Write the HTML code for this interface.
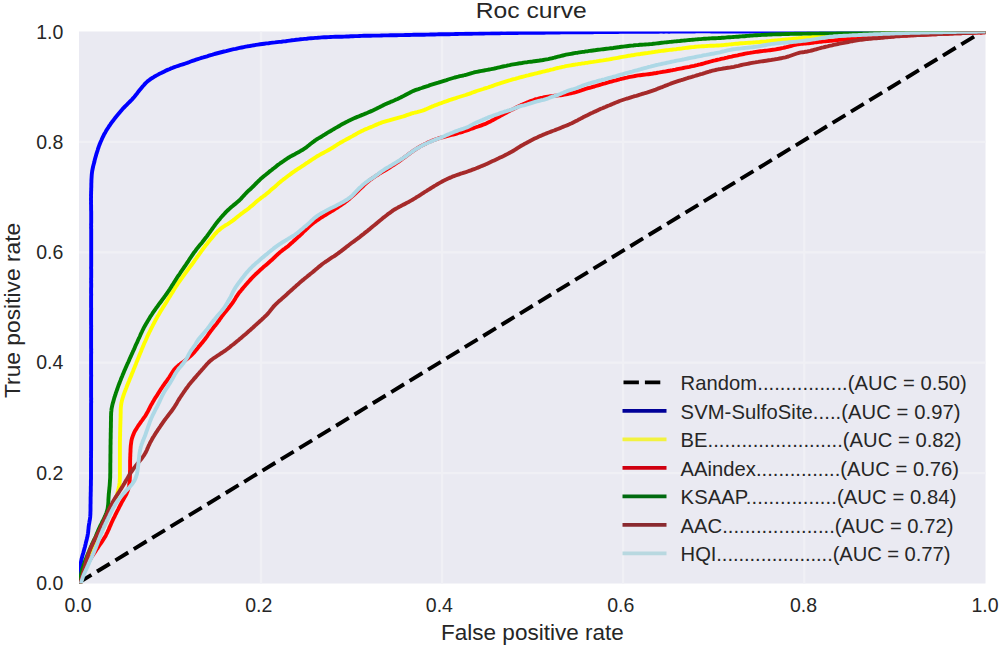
<!DOCTYPE html>
<html><head><meta charset="utf-8"><title>Roc curve</title>
<style>
html,body{margin:0;padding:0;background:#fff;}
body{width:1000px;height:651px;overflow:hidden;}
svg{display:block;}
text{font-family:"Liberation Sans",sans-serif;fill:#262626;}
</style></head><body>
<svg width="1000" height="651" viewBox="0 0 1000 651">
<defs><clipPath id="pc"><rect x="79.0" y="31.5" width="906.5" height="552.0"/></clipPath></defs>

<rect x="79.0" y="31.5" width="906.5" height="552.0" fill="#eaeaf2"/>
<g stroke="#f0f0f5" stroke-width="2.2"><line x1="261.0" y1="31.5" x2="261.0" y2="583.5"/><line x1="79.0" y1="473.1" x2="985.5" y2="473.1"/><line x1="442.1" y1="31.5" x2="442.1" y2="583.5"/><line x1="79.0" y1="362.7" x2="985.5" y2="362.7"/><line x1="623.1" y1="31.5" x2="623.1" y2="583.5"/><line x1="79.0" y1="252.3" x2="985.5" y2="252.3"/><line x1="804.2" y1="31.5" x2="804.2" y2="583.5"/><line x1="79.0" y1="141.9" x2="985.5" y2="141.9"/></g>
<g clip-path="url(#pc)" fill="none" stroke-width="3.9" stroke-linejoin="round" stroke-linecap="butt">
<polyline points="80,581.9 985,29.9" stroke="#000" stroke-dasharray="15 6.54" stroke-dashoffset="1.62"/>
<polyline points="79.3,584.0 79.3,582.5 79.3,581.0 79.3,579.5 79.3,578.0 79.3,576.5 79.4,575.0 79.5,573.5 79.7,572.0 79.8,570.5 80.0,569.0 80.2,567.5 80.4,566.0 80.6,564.5 80.8,563.0 81.1,561.5 81.4,560.0 81.7,558.5 82.1,557.1 82.5,555.6 82.9,554.1 83.4,552.6 83.8,551.1 84.2,549.6 84.6,548.1 85.0,546.7 85.3,545.2 85.7,543.7 86.0,542.2 86.4,540.7 86.8,539.2 87.1,537.7 87.5,536.3 87.7,534.8 88.0,533.3 88.2,531.8 88.3,530.3 88.5,528.8 88.6,527.3 88.8,525.8 89.0,524.3 89.3,522.8 89.5,521.4 89.8,519.9 90.0,518.4 90.2,516.9 90.3,515.4 90.4,513.9 90.4,512.4 90.5,510.9 90.5,509.4 90.5,507.9 90.5,506.4 90.5,504.9 90.6,503.4 90.6,501.9 90.6,500.4 90.6,498.9 90.6,497.4 90.7,495.9 90.7,494.4 90.7,492.8 90.8,491.3 90.8,489.8 90.8,488.3 90.8,486.8 90.9,485.3 90.9,483.8 90.9,482.3 90.9,480.8 91.0,479.3 91.0,477.8 91.0,476.3 91.0,474.8 91.0,473.3 91.0,471.7 91.0,470.2 91.0,468.7 91.0,467.2 91.0,465.7 91.0,464.2 91.0,462.7 91.0,461.2 91.0,459.6 91.0,458.1 91.1,456.6 91.0,455.1 91.1,453.6 91.0,452.1 91.1,450.5 91.1,449.0 91.1,447.5 91.1,446.0 91.1,444.5 91.1,443.0 91.1,441.4 91.1,439.9 91.1,438.4 91.1,436.9 91.1,435.4 91.1,433.8 91.1,432.3 91.1,430.8 91.1,429.3 91.1,427.8 91.1,426.2 91.1,424.7 91.1,423.2 91.1,421.7 91.1,420.1 91.1,418.6 91.1,417.1 91.1,415.6 91.1,414.0 91.1,412.5 91.1,411.0 91.1,409.5 91.1,407.9 91.1,406.4 91.1,404.9 91.1,403.3 91.2,401.8 91.1,400.3 91.2,398.8 91.1,397.2 91.1,395.7 91.1,394.2 91.1,392.6 91.1,391.1 91.1,389.5 91.1,388.0 91.1,386.5 91.1,384.9 91.1,383.4 91.1,381.9 91.1,380.3 91.1,378.8 91.1,377.2 91.2,375.7 91.1,374.2 91.1,372.6 91.1,371.1 91.1,369.5 91.1,368.0 91.1,366.5 91.1,364.9 91.1,363.4 91.1,361.8 91.1,360.3 91.1,358.7 91.1,357.2 91.1,355.6 91.1,354.1 91.2,352.5 91.1,351.0 91.2,349.4 91.1,347.9 91.1,346.3 91.1,344.8 91.1,343.2 91.1,341.7 91.1,340.1 91.1,338.6 91.1,337.0 91.1,335.5 91.1,333.9 91.1,332.3 91.1,330.8 91.2,329.2 91.1,327.7 91.2,326.1 91.1,324.5 91.1,323.0 91.1,321.4 91.1,319.8 91.1,318.3 91.1,316.7 91.1,315.2 91.1,313.6 91.1,312.0 91.1,310.4 91.2,308.9 91.1,307.3 91.1,305.7 91.1,304.2 91.1,302.6 91.1,301.0 91.1,299.4 91.1,297.9 91.1,296.3 91.2,294.7 91.1,293.1 91.1,291.6 91.1,290.0 91.1,288.4 91.2,286.8 91.2,285.2 91.2,283.7 91.1,282.1 91.2,280.5 91.1,278.9 91.2,277.3 91.2,275.7 91.2,274.2 91.2,272.6 91.2,271.0 91.2,269.4 91.1,267.8 91.2,266.2 91.2,264.6 91.2,263.0 91.2,261.4 91.2,259.8 91.2,258.2 91.2,256.7 91.2,255.1 91.2,253.4 91.2,251.9 91.2,250.3 91.2,248.7 91.2,247.1 91.2,245.4 91.2,243.8 91.2,242.2 91.2,240.6 91.2,239.0 91.2,237.4 91.2,235.8 91.2,234.2 91.2,232.6 91.2,231.0 91.2,229.4 91.1,227.7 91.2,226.1 91.1,224.5 91.2,222.9 91.2,221.3 91.2,219.7 91.2,218.0 91.2,216.4 91.2,214.8 91.2,213.2 91.2,211.5 91.1,209.9 91.1,208.3 91.1,206.6 91.1,205.0 91.0,203.3 91.1,201.7 91.0,200.1 91.0,198.4 91.1,196.8 91.0,195.2 91.1,193.6 91.1,191.9 91.2,190.3 91.2,188.7 91.3,187.1 91.3,185.5 91.3,183.8 91.4,182.2 91.4,180.6 91.5,178.9 91.6,177.4 91.7,175.7 91.8,174.2 92.0,172.6 92.2,171.0 92.5,169.5 92.8,168.0 93.1,166.5 93.5,165.0 93.9,163.5 94.3,162.1 94.6,160.6 95.0,159.1 95.4,157.6 95.8,156.2 96.2,154.7 96.7,153.2 97.1,151.8 97.6,150.3 98.0,148.9 98.5,147.5 99.0,146.0 99.6,144.6 100.1,143.2 100.7,141.8 101.3,140.5 101.9,139.1 102.5,137.7 103.2,136.4 103.8,135.0 104.5,133.7 105.3,132.4 106.0,131.1 106.8,129.8 107.6,128.5 108.4,127.3 109.2,126.0 110.1,124.8 110.9,123.5 111.8,122.3 112.8,121.1 113.7,119.9 114.6,118.7 115.5,117.5 116.5,116.3 117.5,115.1 118.4,113.9 119.4,112.7 120.4,111.6 121.4,110.4 122.4,109.3 123.4,108.1 124.5,107.0 125.6,105.9 126.7,104.8 127.8,103.7 128.9,102.6 130.0,101.5 131.1,100.4 132.2,99.3 133.2,98.1 134.2,97.0 135.2,95.8 136.1,94.6 137.1,93.4 138.0,92.2 138.9,91.0 139.9,89.8 140.8,88.7 141.8,87.5 142.8,86.3 143.8,85.2 144.8,84.0 145.9,82.9 147.0,81.9 148.2,80.8 149.5,79.9 150.8,78.9 152.2,78.0 153.7,77.1 155.1,76.2 156.6,75.4 158.1,74.6 159.6,73.7 161.2,73.0 162.8,72.2 164.4,71.4 166.0,70.6 167.6,69.9 169.3,69.2 170.9,68.4 172.7,67.8 174.4,67.1 176.2,66.5 178.1,65.9 179.9,65.2 181.8,64.7 183.6,64.1 185.4,63.5 187.2,62.9 189.0,62.2 190.7,61.5 192.4,60.9 194.2,60.3 196.0,59.7 197.8,59.1 199.7,58.5 201.5,57.9 203.3,57.4 205.2,56.8 207.1,56.3 208.9,55.7 210.7,55.1 212.6,54.6 214.4,54.0 216.4,53.5 218.3,53.0 220.2,52.5 222.1,52.0 224.0,51.5 226.0,51.1 227.9,50.6 229.8,50.1 231.7,49.6 233.7,49.2 235.7,48.8 237.6,48.3 239.6,47.9 241.7,47.5 243.7,47.1 245.6,46.7 247.6,46.3 249.7,46.0 251.8,45.6 253.9,45.3 255.9,44.9 258.0,44.6 260.1,44.3 262.2,44.0 264.3,43.7 266.4,43.4 268.6,43.2 270.6,42.9 272.8,42.6 275.0,42.4 277.1,42.1 279.3,41.9 281.5,41.7 283.5,41.4 285.7,41.2 287.7,40.9 289.9,40.6 292.0,40.3 294.1,40.1 296.2,39.8 298.3,39.6 300.4,39.3 302.5,39.1 304.6,38.9 306.7,38.7 308.8,38.4 311.0,38.2 313.2,38.1 315.3,37.9 317.5,37.8 319.7,37.6 321.8,37.4 324.0,37.3 326.2,37.2 328.4,37.1 330.7,37.0 332.9,36.9 335.2,36.8 337.4,36.8 339.7,36.7 342.0,36.7 344.2,36.6 346.4,36.5 348.6,36.5 350.8,36.3 352.9,36.2 355.1,36.1 357.3,36.1 359.6,36.0 361.7,35.9 363.9,35.8 366.1,35.8 368.4,35.8 370.6,35.8 372.7,35.6 374.9,35.6 377.1,35.6 379.4,35.6 381.5,35.5 383.7,35.4 385.9,35.4 388.1,35.4 390.2,35.3 392.3,35.3 394.5,35.2 396.7,35.2 398.8,35.1 401.0,35.1 403.1,35.1 405.3,35.0 407.4,35.0 409.6,35.0 411.7,34.9 413.7,34.8 415.9,34.8 418.1,34.8 420.1,34.7 422.2,34.7 424.3,34.7 426.5,34.6 428.5,34.6 430.6,34.5 432.7,34.5 434.8,34.5 436.8,34.4 438.9,34.3 441.0,34.3 443.1,34.3 445.1,34.2 447.2,34.2 449.3,34.2 451.3,34.1 453.4,34.1 455.4,34.0 457.4,34.0 459.5,33.9 461.5,33.9 463.6,33.9 465.5,33.8 467.6,33.8 469.6,33.8 471.6,33.7 473.6,33.6 475.7,33.6 477.6,33.6 479.6,33.5 481.7,33.5 483.7,33.5 485.7,33.4 487.6,33.4 489.6,33.4 491.6,33.3 493.6,33.2 495.5,33.2 497.5,33.2 499.5,33.2 501.4,33.0 503.4,33.1 505.4,33.1 507.3,33.0 509.3,33.0 511.3,33.0 513.2,32.9 515.2,33.0 517.2,33.0 519.1,32.9 521.1,32.9 523.0,32.9 524.9,32.8 526.9,32.8 528.8,32.9 530.7,32.8 532.7,32.8 534.6,32.8 536.5,32.7 538.4,32.7 540.3,32.7 542.2,32.6 544.1,32.7 546.0,32.6 547.9,32.6 549.9,32.6 551.7,32.6 553.6,32.5 555.5,32.5 557.4,32.5 559.3,32.5 561.1,32.4 563.0,32.4 564.9,32.4 566.8,32.4 568.6,32.4 570.5,32.4 572.4,32.4 574.2,32.3 576.1,32.3 578.0,32.3 579.8,32.3 581.6,32.3 583.5,32.2 585.3,32.2 587.1,32.2 589.0,32.2 590.8,32.2 592.6,32.2 594.5,32.1 596.3,32.1 598.1,32.1 599.9,32.1 601.7,32.1 603.5,32.0 605.4,32.1 607.2,32.0 609.0,32.0 610.8,32.0 612.6,32.0 614.4,32.0 616.2,31.9 618.0,32.0 619.8,31.9 621.6,31.9 623.3,31.9 625.1,31.8 626.9,31.9 628.7,31.8 630.4,31.8 632.2,31.9 634.0,31.8 635.8,31.8 637.5,31.8 639.3,31.7 641.1,31.8 642.8,31.7 644.6,31.7 646.3,31.8 648.1,31.7 649.8,31.7 651.6,31.7 653.3,31.7 655.1,31.7 656.8,31.6 658.5,31.7 660.3,31.6 662.0,31.6 663.8,31.7 665.4,31.6 667.2,31.6 669.0,31.7 670.6,31.6 672.4,31.6 674.1,31.5 675.8,31.6 677.5,31.6 679.2,31.5 680.9,31.6 682.6,31.5 684.3,31.5 686.1,31.6 687.7,31.5 689.5,31.5 691.1,31.5 692.8,31.5 694.5,31.5 696.2,31.4 697.9,31.4 699.6,31.4 701.3,31.4 703.0,31.4 704.6,31.4 706.3,31.4 708.0,31.4 709.7,31.4 711.4,31.5 713.0,31.4 714.7,31.5 716.4,31.5 718.0,31.5 719.7,31.5 721.4,31.4 723.0,31.5 724.7,31.4 726.4,31.5 728.0,31.4 729.7,31.5 731.3,31.5 732.9,31.5 734.6,31.5 736.2,31.5 737.9,31.5 739.5,31.4 741.2,31.5 742.8,31.4 744.5,31.5 746.1,31.4 747.7,31.5 749.3,31.5 751.0,31.5 752.6,31.5 754.2,31.5 755.9,31.5 757.5,31.4 759.1,31.5 760.7,31.4 762.3,31.5 763.9,31.4 765.6,31.5 767.2,31.4 768.8,31.5 770.4,31.5 772.0,31.5 773.6,31.5 775.2,31.5 776.8,31.5 778.4,31.5 780.0,31.5 781.6,31.4 783.2,31.5 784.8,31.4 786.4,31.5 788.0,31.4 789.6,31.5 791.2,31.5 792.8,31.5 794.4,31.5 796.0,31.5 797.6,31.5 799.1,31.5 800.7,31.5 802.3,31.5 803.9,31.5 805.4,31.5 807.0,31.5 808.6,31.5 810.2,31.5 811.7,31.4 813.3,31.5 814.9,31.5 816.5,31.5 818.0,31.5 819.6,31.5 821.2,31.5 822.7,31.5 824.3,31.5 825.8,31.5 827.4,31.5 829.0,31.5 830.5,31.5 832.1,31.5 833.6,31.5 835.2,31.5 836.7,31.5 838.3,31.5 839.8,31.5 841.4,31.5 842.9,31.5 844.5,31.5 846.0,31.5 847.6,31.5 849.1,31.5 850.7,31.5 852.2,31.5 853.8,31.5 855.3,31.5 856.8,31.5 858.4,31.5 859.9,31.5 861.5,31.5 863.0,31.5 864.5,31.5 866.1,31.5 867.6,31.5 869.1,31.5 870.7,31.5 872.2,31.5 873.7,31.5 875.3,31.5 876.8,31.5 878.3,31.5 879.8,31.5 881.4,31.5 882.9,31.5 884.4,31.5 885.9,31.5 887.5,31.5 889.0,31.5 890.5,31.5 892.0,31.5 893.5,31.5 895.1,31.5 896.6,31.5 898.1,31.5 899.6,31.5 901.1,31.5 902.7,31.5 904.2,31.5 905.7,31.5 907.2,31.5 908.7,31.5 910.2,31.5 911.8,31.5 913.3,31.5 914.8,31.5 916.3,31.5 917.8,31.5 919.3,31.5 920.8,31.5 922.3,31.5 923.8,31.5 925.3,31.5 926.9,31.5 928.4,31.5 929.9,31.5 931.4,31.5 932.9,31.5 934.4,31.5 935.9,31.5 937.4,31.5 938.9,31.5 940.4,31.5 941.9,31.5 943.4,31.5 944.9,31.5 946.4,31.5 947.9,31.5 949.4,31.5 950.9,31.5 952.4,31.5 953.9,31.5 955.4,31.5 957.0,31.5 958.5,31.5 960.0,31.5 961.5,31.5 963.0,31.5 964.5,31.5 966.0,31.5 967.5,31.5 969.0,31.5 970.5,31.5 972.0,31.5 973.5,31.5 975.0,31.5 976.5,31.5 978.0,31.5 979.5,31.5 981.0,31.5 982.5,31.5 984.0,31.5 985.5,31.5 987.0,31.5 988.5,31.5 990.0,31.5 990.0,31.5" stroke="#0000ff"/>
<polyline points="80.6,584.0 80.8,582.5 81.1,581.0 81.4,579.5 81.8,578.0 82.2,576.5 82.7,575.0 83.3,573.5 83.8,572.0 84.4,570.5 85.0,569.0 85.6,567.6 86.2,566.1 86.7,564.6 87.4,563.1 87.9,561.6 88.6,560.1 89.2,558.6 89.9,557.2 90.6,555.7 91.2,554.2 91.9,552.7 92.6,551.2 93.3,549.8 94.0,548.3 94.7,546.8 95.4,545.4 96.0,543.9 96.7,542.4 97.4,540.9 98.1,539.5 98.7,538.0 99.4,536.5 100.1,535.1 100.8,533.6 101.4,532.1 102.1,530.7 102.8,529.2 103.4,527.8 104.2,526.3 104.8,524.8 105.5,523.4 106.2,521.9 106.9,520.5 107.5,519.0 108.2,517.6 108.8,516.1 109.4,514.7 110.0,513.2 110.5,511.7 111.1,510.3 111.7,508.8 112.2,507.4 112.7,505.9 113.3,504.4 113.9,503.0 114.4,501.5 115.0,500.1 115.6,498.6 116.1,497.2 116.6,495.7 117.1,494.3 117.5,492.8 117.9,491.3 118.3,489.9 118.6,488.4 118.9,486.9 119.2,485.4 119.4,484.0 119.6,482.5 119.7,481.0 119.8,479.5 119.9,478.0 119.9,476.5 119.9,474.9 119.9,473.4 119.9,471.9 119.9,470.4 119.9,468.9 119.9,467.4 119.9,465.9 119.9,464.4 119.9,462.8 119.9,461.3 119.9,459.8 119.9,458.3 119.9,456.8 119.9,455.3 119.9,453.7 119.9,452.2 119.9,450.7 119.9,449.2 119.9,447.7 119.9,446.2 119.9,444.6 119.9,443.1 119.9,441.6 120.0,440.1 120.0,438.6 120.0,437.1 120.1,435.5 120.1,434.0 120.1,432.5 120.2,431.0 120.2,429.5 120.2,428.0 120.3,426.4 120.3,424.9 120.4,423.4 120.4,421.9 120.5,420.4 120.5,418.9 120.6,417.3 120.6,415.8 120.6,414.3 120.7,412.8 120.7,411.2 120.7,409.7 120.8,408.2 120.9,406.7 121.1,405.2 121.3,403.7 121.6,402.2 121.9,400.8 122.3,399.3 122.7,397.9 123.2,396.5 123.6,395.0 124.1,393.6 124.6,392.2 125.2,390.8 125.7,389.3 126.3,387.9 126.8,386.5 127.4,385.1 127.9,383.7 128.5,382.3 129.1,380.9 129.6,379.5 130.2,378.1 130.8,376.7 131.4,375.3 131.9,373.8 132.5,372.4 133.1,371.0 133.6,369.6 134.2,368.2 134.8,366.8 135.3,365.4 135.9,364.0 136.4,362.6 137.0,361.2 137.6,359.8 138.1,358.4 138.7,357.0 139.3,355.6 139.8,354.2 140.4,352.8 141.0,351.4 141.5,350.0 142.1,348.6 142.7,347.2 143.3,345.8 143.8,344.4 144.4,343.0 145.1,341.6 145.7,340.3 146.3,338.9 146.9,337.5 147.5,336.1 148.2,334.7 148.8,333.4 149.5,332.0 150.2,330.6 150.8,329.3 151.5,327.9 152.2,326.6 152.9,325.2 153.6,323.9 154.3,322.5 155.0,321.2 155.7,319.8 156.5,318.5 157.2,317.1 158.0,315.8 158.8,314.5 159.5,313.2 160.3,311.8 161.1,310.5 161.9,309.2 162.7,307.9 163.5,306.6 164.4,305.3 165.2,304.0 166.0,302.7 166.8,301.4 167.6,300.1 168.4,298.8 169.2,297.4 170.1,296.1 170.8,294.8 171.7,293.5 172.5,292.2 173.3,290.9 174.1,289.6 174.9,288.3 175.7,287.0 176.6,285.7 177.4,284.4 178.2,283.2 179.1,281.9 180.0,280.6 180.9,279.3 181.8,278.1 182.7,276.8 183.6,275.6 184.5,274.3 185.4,273.1 186.4,271.8 187.3,270.5 188.2,269.3 189.1,268.1 190.1,266.8 191.1,265.6 192.0,264.3 192.9,263.1 193.8,261.8 194.7,260.6 195.5,259.3 196.4,258.1 197.3,256.8 198.2,255.6 199.1,254.3 200.0,253.1 200.9,251.8 201.8,250.6 202.8,249.3 203.7,248.1 204.6,246.9 205.5,245.6 206.5,244.4 207.5,243.2 208.4,242.0 209.4,240.8 210.4,239.6 211.4,238.4 212.4,237.2 213.4,236.0 214.4,234.8 215.4,233.6 216.5,232.5 217.6,231.3 218.9,230.3 220.1,229.2 221.4,228.1 222.8,227.1 224.3,226.2 225.8,225.2 227.3,224.3 228.8,223.3 230.2,222.4 231.7,221.4 233.1,220.4 234.4,219.4 235.7,218.3 236.9,217.3 238.2,216.2 239.5,215.2 240.8,214.2 242.2,213.2 243.5,212.2 244.9,211.2 246.3,210.2 247.6,209.2 248.9,208.2 250.2,207.1 251.4,206.1 252.7,205.1 253.9,204.0 255.1,202.9 256.3,201.8 257.5,200.8 258.8,199.8 260.1,198.8 261.3,197.7 262.7,196.8 264.0,195.8 265.4,194.8 266.6,193.8 267.9,192.7 269.1,191.7 270.3,190.6 271.5,189.6 272.7,188.6 274.0,187.5 275.2,186.5 276.4,185.4 277.5,184.4 278.7,183.3 279.9,182.3 281.1,181.2 282.4,180.2 283.7,179.2 285.0,178.3 286.3,177.3 287.6,176.3 288.9,175.3 290.2,174.4 291.5,173.4 292.8,172.4 294.2,171.5 295.5,170.5 296.9,169.6 298.3,168.7 299.7,167.8 301.1,166.9 302.4,166.0 303.9,165.1 305.2,164.2 306.6,163.2 308.0,162.3 309.3,161.4 310.7,160.5 312.0,159.6 313.5,158.7 314.8,157.8 316.2,156.9 317.6,156.0 319.1,155.2 320.6,154.3 322.1,153.5 323.6,152.7 325.1,151.9 326.6,151.1 328.1,150.3 329.5,149.5 331.0,148.6 332.4,147.8 333.8,146.9 335.2,146.0 336.5,145.1 337.9,144.2 339.3,143.4 340.7,142.5 342.2,141.7 343.6,140.9 345.1,140.1 346.6,139.3 348.1,138.5 349.5,137.7 351.0,136.9 352.5,136.1 353.9,135.3 355.4,134.5 356.8,133.6 358.3,132.8 359.8,132.1 361.2,131.3 362.8,130.6 364.3,129.8 365.9,129.1 367.5,128.5 369.1,127.8 370.8,127.1 372.4,126.5 374.0,125.8 375.5,125.1 377.1,124.4 378.7,123.7 380.3,123.1 382.0,122.4 383.7,121.9 385.5,121.4 387.3,120.9 389.1,120.4 390.9,119.8 392.6,119.3 394.4,118.8 396.2,118.3 398.0,117.8 399.8,117.3 401.6,116.8 403.4,116.4 405.1,115.8 406.7,115.2 408.4,114.6 410.0,114.1 411.7,113.4 413.5,113.0 415.2,112.5 417.1,112.1 418.9,111.6 420.7,111.2 422.4,110.7 424.0,110.1 425.6,109.4 427.1,108.7 428.6,108.1 430.1,107.4 431.7,106.7 433.3,106.1 434.8,105.4 436.4,104.9 438.0,104.2 439.5,103.6 441.2,103.1 442.7,102.5 444.4,101.9 446.0,101.4 447.6,100.8 449.3,100.2 450.9,99.7 452.5,99.1 454.1,98.6 455.8,98.1 457.4,97.5 459.1,97.0 460.7,96.5 462.4,96.0 464.0,95.5 465.7,95.0 467.3,94.4 468.9,93.9 470.5,93.3 472.0,92.7 473.6,92.2 475.2,91.6 476.7,91.0 478.3,90.5 480.0,90.0 481.6,89.5 483.2,89.0 484.8,88.4 486.5,88.0 488.1,87.5 489.6,86.9 491.2,86.4 492.8,85.8 494.3,85.2 495.9,84.7 497.5,84.1 499.1,83.7 500.6,83.1 502.2,82.6 503.8,82.1 505.4,81.6 507.0,81.1 508.6,80.6 510.3,80.2 511.9,79.7 513.5,79.2 515.1,78.8 516.7,78.3 518.4,77.9 520.0,77.4 521.7,77.0 523.3,76.6 525.0,76.2 526.6,75.7 528.3,75.4 529.9,74.9 531.5,74.5 533.2,74.1 534.8,73.7 536.5,73.3 538.1,72.9 539.7,72.5 541.4,72.1 543.0,71.7 544.6,71.3 546.3,70.9 547.9,70.5 549.5,70.1 551.1,69.6 552.8,69.3 554.4,68.8 556.0,68.4 557.6,68.0 559.2,67.7 560.9,67.3 562.5,66.9 564.2,66.6 565.8,66.2 567.5,65.9 569.2,65.6 570.8,65.3 572.5,65.0 574.2,64.8 575.9,64.4 577.6,64.2 579.3,63.9 581.0,63.7 582.7,63.4 584.4,63.2 586.1,62.9 587.8,62.7 589.5,62.4 591.2,62.1 592.9,61.9 594.5,61.6 596.2,61.4 597.9,61.1 599.6,60.8 601.3,60.6 602.9,60.4 604.6,60.1 606.3,59.8 607.9,59.6 609.5,59.3 611.2,59.0 612.8,58.7 614.5,58.4 616.1,58.1 617.7,57.8 619.3,57.5 620.9,57.2 622.5,56.9 624.2,56.6 625.8,56.3 627.4,56.0 629.0,55.7 630.6,55.5 632.3,55.2 633.9,55.0 635.5,54.7 637.1,54.4 638.8,54.2 640.4,54.0 642.1,53.7 643.7,53.5 645.3,53.3 647.0,53.1 648.6,52.8 650.2,52.6 651.9,52.3 653.5,52.1 655.1,51.8 656.7,51.6 658.3,51.3 659.9,51.1 661.5,50.9 663.2,50.7 664.8,50.5 666.4,50.3 668.0,50.1 669.7,49.9 671.3,49.8 672.9,49.5 674.6,49.4 676.2,49.2 677.8,48.9 679.4,48.7 681.0,48.6 682.6,48.3 684.2,48.1 685.8,47.9 687.4,47.7 689.0,47.5 690.7,47.3 692.2,47.1 693.9,47.0 695.5,46.8 697.1,46.6 698.7,46.5 700.4,46.4 702.0,46.3 703.7,46.2 705.3,46.1 706.9,46.0 708.6,45.9 710.2,45.8 711.9,45.8 713.5,45.7 715.2,45.6 716.8,45.5 718.4,45.5 720.1,45.4 721.7,45.2 723.3,45.1 724.8,44.9 726.4,44.7 728.0,44.6 729.6,44.4 731.2,44.3 732.8,44.1 734.3,43.9 735.9,43.8 737.5,43.7 739.1,43.5 740.7,43.3 742.3,43.2 743.9,43.1 745.4,43.0 747.0,42.9 748.6,42.8 750.2,42.7 751.8,42.6 753.4,42.5 755.0,42.4 756.5,42.2 758.1,42.1 759.7,42.0 761.3,41.8 762.8,41.8 764.4,41.6 766.0,41.5 767.5,41.3 769.1,41.2 770.6,41.0 772.2,40.8 773.7,40.7 775.3,40.5 776.8,40.4 778.4,40.2 779.9,40.1 781.5,39.9 783.0,39.8 784.6,39.7 786.1,39.5 787.7,39.4 789.2,39.2 790.7,39.1 792.3,38.9 793.8,38.7 795.3,38.6 796.9,38.4 798.4,38.3 799.9,38.1 801.5,38.0 803.0,37.8 804.5,37.7 806.1,37.6 807.6,37.5 809.1,37.3 810.7,37.2 812.2,37.0 813.7,36.9 815.3,36.8 816.8,36.7 818.3,36.6 819.9,36.5 821.4,36.4 823.0,36.3 824.5,36.2 826.0,36.1 827.6,36.0 829.1,35.9 830.6,35.8 832.2,35.7 833.7,35.7 835.2,35.6 836.8,35.5 838.3,35.4 839.8,35.3 841.3,35.2 842.9,35.1 844.4,35.0 845.9,34.9 847.4,34.8 849.0,34.7 850.5,34.6 852.0,34.6 853.5,34.5 855.0,34.4 856.6,34.3 858.1,34.2 859.6,34.1 861.1,34.0 862.6,33.9 864.2,33.8 865.7,33.8 867.2,33.7 868.7,33.6 870.2,33.5 871.7,33.5 873.3,33.4 874.8,33.3 876.3,33.2 877.8,33.2 879.3,33.1 880.8,33.1 882.4,33.0 883.9,33.0 885.4,32.9 886.9,32.9 888.4,32.8 889.9,32.7 891.4,32.7 892.9,32.6 894.5,32.6 896.0,32.5 897.5,32.5 899.0,32.4 900.5,32.4 902.0,32.4 903.5,32.3 905.0,32.3 906.6,32.3 908.1,32.2 909.6,32.2 911.1,32.2 912.6,32.1 914.1,32.1 915.6,32.1 917.1,32.1 918.6,32.1 920.1,32.0 921.6,32.0 923.1,32.0 924.7,32.0 926.2,31.9 927.7,31.9 929.2,31.9 930.7,31.8 932.2,31.8 933.7,31.8 935.2,31.8 936.7,31.7 938.2,31.7 939.7,31.7 941.2,31.7 942.7,31.7 944.2,31.7 945.7,31.7 947.2,31.7 948.7,31.6 950.2,31.6 951.7,31.6 953.2,31.6 954.7,31.6 956.2,31.6 957.7,31.6 959.2,31.6 960.7,31.6 962.2,31.6 963.7,31.6 965.2,31.6 966.7,31.6 968.2,31.6 969.7,31.6 971.2,31.6 972.7,31.5 974.2,31.5 975.7,31.5 977.2,31.5 978.7,31.5 980.2,31.5 981.7,31.5 983.2,31.5 984.7,31.5 986.2,31.5 987.7,31.5 989.2,31.5 990.0,31.5" stroke="#ffff00"/>
<polyline points="80.3,584.0 80.5,582.5 80.7,581.0 80.9,579.5 81.3,578.0 81.6,576.5 82.1,575.0 82.6,573.5 83.2,572.0 83.9,570.5 84.6,569.1 85.4,567.6 86.2,566.1 87.0,564.6 87.9,563.1 88.7,561.6 89.7,560.2 90.7,558.7 91.5,557.2 92.5,555.7 93.5,554.3 94.4,552.8 95.4,551.3 96.3,549.9 97.4,548.4 98.3,547.0 99.3,545.5 100.3,544.0 101.3,542.6 102.3,541.1 103.2,539.7 104.2,538.2 105.1,536.8 105.9,535.3 106.6,533.8 107.4,532.4 108.0,530.9 108.7,529.5 109.3,528.0 109.9,526.5 110.6,525.1 111.2,523.6 111.8,522.2 112.5,520.7 113.2,519.2 113.9,517.8 114.7,516.3 115.3,514.9 116.1,513.5 116.8,512.0 117.5,510.6 118.3,509.1 119.0,507.7 119.7,506.2 120.5,504.8 121.2,503.4 122.0,501.9 122.8,500.5 123.6,499.1 124.4,497.6 125.2,496.2 126.0,494.8 126.7,493.4 127.3,491.9 127.8,490.5 128.3,489.0 128.7,487.5 129.0,486.1 129.2,484.6 129.4,483.1 129.6,481.6 129.7,480.1 129.8,478.6 129.9,477.1 129.9,475.6 130.0,474.1 130.0,472.6 130.0,471.1 130.1,469.6 130.1,468.0 130.1,466.5 130.1,465.0 130.1,463.5 130.1,462.0 130.1,460.5 130.2,459.0 130.2,457.5 130.3,455.9 130.3,454.4 130.4,452.9 130.5,451.4 130.5,449.9 130.6,448.4 130.7,446.9 130.8,445.4 131.0,443.9 131.2,442.4 131.4,440.9 131.7,439.5 132.1,438.0 132.6,436.6 133.1,435.2 133.7,433.7 134.3,432.3 135.0,430.9 135.9,429.6 136.7,428.2 137.6,426.8 138.4,425.5 139.4,424.1 140.4,422.8 141.3,421.4 142.3,420.1 143.3,418.7 144.2,417.4 145.2,416.1 146.0,414.7 146.8,413.3 147.6,412.0 148.3,410.6 149.0,409.2 149.7,407.8 150.4,406.4 151.1,405.0 151.9,403.7 152.7,402.3 153.5,400.9 154.3,399.6 155.1,398.2 156.0,396.9 156.9,395.6 157.7,394.2 158.6,392.9 159.4,391.5 160.2,390.2 161.1,388.8 162.0,387.5 162.9,386.2 163.8,384.9 164.7,383.5 165.7,382.2 166.7,380.9 167.6,379.6 168.5,378.3 169.4,377.0 170.3,375.6 171.1,374.3 171.9,373.0 172.8,371.7 173.7,370.3 174.7,369.1 175.9,367.8 177.2,366.6 178.5,365.4 180.0,364.3 181.5,363.1 183.1,362.0 184.7,360.9 186.0,359.7 187.5,358.6 188.9,357.4 190.2,356.2 191.5,355.0 192.7,353.8 193.9,352.6 195.0,351.4 196.0,350.1 197.1,348.9 198.1,347.6 199.1,346.3 200.2,345.1 201.2,343.8 202.3,342.6 203.3,341.3 204.3,340.1 205.3,338.8 206.2,337.5 207.1,336.3 208.0,335.0 208.9,333.7 209.8,332.4 210.7,331.1 211.7,329.9 212.7,328.6 213.7,327.3 214.7,326.1 215.7,324.9 216.7,323.6 217.6,322.3 218.6,321.1 219.5,319.8 220.3,318.5 221.3,317.2 222.1,316.0 223.1,314.7 224.1,313.5 225.1,312.3 226.2,311.0 227.2,309.8 228.2,308.6 229.2,307.3 230.1,306.1 231.1,304.8 232.0,303.6 232.9,302.3 233.8,301.0 234.6,299.7 235.4,298.4 236.1,297.1 237.0,295.8 237.8,294.6 238.7,293.3 239.7,292.1 240.7,290.9 241.7,289.6 242.8,288.4 243.7,287.2 244.8,286.0 245.8,284.8 246.9,283.6 247.9,282.4 249.0,281.2 250.0,280.1 251.1,278.9 252.2,277.7 253.3,276.6 254.5,275.4 255.6,274.3 256.8,273.2 258.1,272.1 259.3,270.9 260.4,269.8 261.7,268.7 262.9,267.6 264.1,266.5 265.4,265.5 266.7,264.4 268.0,263.3 269.2,262.2 270.5,261.1 271.7,260.1 272.9,258.9 274.0,257.8 275.2,256.7 276.3,255.6 277.5,254.5 278.7,253.4 280.0,252.3 281.3,251.3 282.6,250.2 284.0,249.2 285.3,248.2 286.7,247.2 288.0,246.2 289.2,245.1 290.4,244.0 291.6,242.9 292.8,241.9 294.0,240.8 295.2,239.7 296.4,238.6 297.6,237.5 298.8,236.4 300.0,235.4 301.1,234.3 302.3,233.2 303.3,232.0 304.5,230.9 305.7,229.9 306.8,228.8 308.0,227.7 309.1,226.6 310.3,225.5 311.6,224.5 312.8,223.4 314.1,222.4 315.5,221.5 316.8,220.5 318.2,219.6 319.6,218.6 321.1,217.7 322.5,216.8 323.9,215.9 325.4,215.0 326.9,214.1 328.3,213.2 329.8,212.3 331.3,211.4 332.8,210.5 334.2,209.6 335.6,208.7 337.0,207.8 338.4,206.8 339.8,205.9 341.2,205.0 342.5,204.0 343.9,203.1 345.2,202.1 346.5,201.2 347.7,200.2 349.0,199.2 350.2,198.1 351.4,197.1 352.5,196.1 353.7,195.0 354.8,193.9 356.0,192.9 357.1,191.8 358.2,190.8 359.3,189.7 360.4,188.6 361.6,187.5 362.7,186.5 363.8,185.4 364.9,184.4 366.1,183.3 367.3,182.3 368.5,181.3 369.7,180.3 371.0,179.3 372.3,178.4 373.6,177.5 374.9,176.6 376.3,175.7 377.7,174.8 379.0,173.9 380.4,173.1 381.8,172.2 383.3,171.4 384.7,170.5 386.1,169.7 387.6,168.8 388.9,168.0 390.3,167.1 391.7,166.2 393.0,165.4 394.4,164.5 395.7,163.6 397.1,162.7 398.4,161.8 399.7,160.9 401.0,160.0 402.2,159.0 403.5,158.1 404.8,157.2 406.0,156.2 407.3,155.3 408.5,154.4 409.8,153.4 411.0,152.5 412.3,151.6 413.6,150.7 414.9,149.8 416.3,148.9 417.6,148.0 419.0,147.2 420.3,146.4 421.8,145.6 423.3,144.9 424.7,144.1 426.2,143.4 427.7,142.6 429.2,141.9 430.8,141.3 432.4,140.6 434.0,140.0 435.7,139.4 437.4,138.8 439.0,138.2 440.8,137.7 442.5,137.3 444.3,136.8 446.0,136.3 447.9,135.8 449.6,135.4 451.4,134.9 453.2,134.5 455.0,134.0 456.8,133.5 458.5,133.0 460.2,132.5 462.0,132.1 463.6,131.5 465.3,131.0 466.9,130.4 468.5,129.8 470.1,129.2 471.8,128.7 473.4,128.1 475.0,127.5 476.6,127.0 478.3,126.5 479.9,125.9 481.5,125.3 483.1,124.7 484.7,124.2 486.2,123.5 487.6,122.8 489.1,122.1 490.5,121.4 491.9,120.6 493.3,119.9 494.7,119.1 496.0,118.3 497.4,117.6 498.8,116.8 500.1,116.0 501.5,115.3 502.9,114.5 504.3,113.8 505.7,113.1 507.0,112.3 508.4,111.6 509.8,110.8 511.2,110.1 512.6,109.4 514.0,108.7 515.4,108.0 516.8,107.2 518.2,106.5 519.7,105.9 521.0,105.1 522.5,104.5 524.0,103.9 525.4,103.2 526.9,102.6 528.4,102.0 529.9,101.4 531.4,100.8 533.0,100.3 534.5,99.7 536.1,99.2 537.7,98.8 539.4,98.3 541.0,97.9 542.7,97.6 544.4,97.2 546.1,96.9 547.9,96.6 549.7,96.3 551.5,96.1 553.4,96.0 555.1,95.7 557.0,95.6 558.9,95.4 560.6,95.2 562.4,95.0 564.2,94.7 565.8,94.3 567.5,94.0 569.2,93.6 570.9,93.3 572.5,92.9 574.2,92.5 575.8,92.2 577.4,91.7 578.9,91.2 580.4,90.7 581.9,90.1 583.5,89.6 584.9,89.1 586.5,88.7 588.1,88.2 589.6,87.8 591.2,87.4 592.8,86.9 594.4,86.5 595.9,86.0 597.4,85.5 599.0,85.1 600.5,84.6 602.1,84.2 603.6,83.7 605.1,83.3 606.7,82.8 608.2,82.4 609.8,81.9 611.4,81.5 612.9,81.1 614.4,80.7 616.0,80.3 617.6,79.8 619.1,79.5 620.7,79.0 622.3,78.7 623.8,78.3 625.4,77.9 627.0,77.6 628.6,77.2 630.2,76.9 631.8,76.6 633.4,76.3 635.0,76.0 636.7,75.7 638.3,75.4 640.0,75.2 641.6,75.0 643.3,74.8 645.0,74.6 646.7,74.4 648.3,74.2 650.0,74.0 651.6,73.8 653.2,73.5 654.8,73.2 656.5,73.0 658.0,72.6 659.6,72.4 661.2,72.1 662.8,71.8 664.5,71.6 666.1,71.3 667.7,71.0 669.3,70.8 670.8,70.4 672.4,70.2 674.0,69.9 675.5,69.6 677.1,69.2 678.7,68.9 680.2,68.6 681.8,68.3 683.3,68.0 684.9,67.7 686.4,67.4 688.0,67.1 689.5,66.8 691.1,66.4 692.6,66.1 694.2,65.8 695.7,65.4 697.2,65.1 698.7,64.7 700.2,64.4 701.7,64.0 703.2,63.6 704.7,63.2 706.2,62.7 707.7,62.3 709.2,61.9 710.6,61.5 712.1,61.1 713.6,60.7 715.1,60.4 716.6,60.0 718.1,59.6 719.6,59.3 721.1,58.9 722.6,58.6 724.1,58.3 725.6,57.9 727.1,57.6 728.6,57.2 730.1,56.9 731.7,56.6 733.2,56.2 734.7,55.9 736.2,55.6 737.7,55.3 739.2,54.9 740.7,54.6 742.2,54.3 743.7,54.0 745.2,53.7 746.7,53.4 748.2,53.1 749.8,52.9 751.3,52.6 752.8,52.4 754.3,52.1 755.9,51.9 757.4,51.7 759.0,51.5 760.5,51.3 762.1,51.1 763.6,50.9 765.2,50.7 766.7,50.6 768.3,50.4 769.8,50.2 771.3,50.0 772.9,49.8 774.4,49.6 775.9,49.3 777.4,49.0 778.9,48.8 780.4,48.5 781.9,48.2 783.4,47.9 784.9,47.5 786.3,47.2 787.8,46.8 789.2,46.4 790.7,46.0 792.1,45.6 793.6,45.2 795.1,44.8 796.5,44.5 798.0,44.2 799.5,44.0 801.1,43.8 802.6,43.7 804.1,43.6 805.7,43.5 807.2,43.4 808.7,43.2 810.3,43.1 811.8,42.9 813.3,42.7 814.8,42.4 816.3,42.2 817.8,42.0 819.3,41.8 820.8,41.7 822.4,41.5 823.9,41.4 825.4,41.3 826.9,41.1 828.5,41.0 830.0,40.9 831.5,40.7 833.0,40.6 834.5,40.4 836.0,40.2 837.6,40.1 839.1,39.9 840.6,39.7 842.1,39.5 843.6,39.4 845.1,39.2 846.6,39.1 848.1,38.9 849.6,38.8 851.1,38.7 852.7,38.6 854.2,38.5 855.7,38.4 857.2,38.3 858.7,38.2 860.3,38.2 861.8,38.1 863.3,38.0 864.8,37.9 866.3,37.9 867.9,37.8 869.4,37.7 870.9,37.6 872.4,37.5 873.9,37.5 875.4,37.4 876.9,37.3 878.5,37.2 880.0,37.1 881.5,37.0 883.0,36.9 884.5,36.8 886.0,36.7 887.5,36.7 889.0,36.5 890.5,36.5 892.0,36.3 893.5,36.2 895.0,36.1 896.5,36.0 898.0,35.9 899.5,35.9 901.0,35.8 902.6,35.7 904.1,35.6 905.6,35.5 907.1,35.5 908.6,35.4 910.1,35.3 911.6,35.2 913.1,35.2 914.6,35.1 916.1,35.0 917.6,35.0 919.1,34.9 920.6,34.8 922.1,34.7 923.6,34.7 925.1,34.6 926.6,34.5 928.1,34.5 929.6,34.4 931.1,34.3 932.6,34.3 934.1,34.2 935.6,34.2 937.1,34.1 938.6,34.0 940.1,34.0 941.6,33.9 943.1,33.9 944.6,33.8 946.1,33.7 947.6,33.7 949.1,33.6 950.6,33.6 952.1,33.5 953.6,33.4 955.1,33.4 956.6,33.3 958.1,33.3 959.6,33.2 961.1,33.2 962.6,33.1 964.1,33.0 965.6,33.0 967.1,32.9 968.6,32.9 970.1,32.8 971.6,32.8 973.1,32.7 974.6,32.7 976.1,32.6 977.6,32.6 979.1,32.5 980.6,32.5 982.1,32.5 983.6,32.4 985.1,32.4 986.6,32.3 988.1,32.3 989.6,32.3 990.0,32.3" stroke="#ff0000"/>
<polyline points="80.0,584.0 80.1,582.5 80.3,581.0 80.4,579.5 80.6,578.0 80.8,576.5 81.0,575.0 81.3,573.5 81.6,572.0 82.0,570.5 82.3,569.0 82.8,567.5 83.3,566.0 83.7,564.6 84.3,563.1 84.8,561.6 85.4,560.1 86.0,558.6 86.6,557.1 87.2,555.6 87.8,554.2 88.4,552.7 89.1,551.2 89.7,549.7 90.3,548.3 90.9,546.8 91.6,545.3 92.2,543.8 92.9,542.4 93.6,540.9 94.3,539.4 95.0,538.0 95.7,536.5 96.3,535.0 96.9,533.6 97.5,532.1 98.1,530.6 98.8,529.2 99.4,527.7 100.1,526.2 100.8,524.8 101.6,523.3 102.2,521.9 103.0,520.4 103.7,519.0 104.4,517.5 105.1,516.1 105.7,514.6 106.3,513.2 106.8,511.7 107.2,510.2 107.6,508.7 107.8,507.3 108.0,505.8 108.2,504.3 108.3,502.8 108.4,501.3 108.4,499.8 108.5,498.3 108.6,496.8 108.7,495.3 108.8,493.8 109.0,492.3 109.1,490.8 109.3,489.3 109.4,487.8 109.6,486.3 109.7,484.8 109.8,483.3 109.9,481.8 110.0,480.3 110.1,478.8 110.2,477.3 110.2,475.8 110.2,474.3 110.3,472.8 110.3,471.3 110.3,469.8 110.3,468.3 110.3,466.8 110.3,465.3 110.3,463.7 110.4,462.2 110.4,460.7 110.4,459.2 110.4,457.7 110.4,456.2 110.4,454.7 110.5,453.2 110.5,451.6 110.5,450.1 110.5,448.6 110.5,447.1 110.5,445.6 110.6,444.1 110.6,442.5 110.6,441.0 110.6,439.5 110.7,438.0 110.7,436.5 110.7,435.0 110.7,433.4 110.8,431.9 110.8,430.4 110.8,428.9 110.9,427.4 110.9,425.9 110.9,424.3 110.9,422.8 111.0,421.3 111.0,419.8 111.0,418.2 111.0,416.7 111.1,415.2 111.1,413.7 111.2,412.2 111.4,410.7 111.5,409.2 111.8,407.7 112.1,406.2 112.4,404.8 112.8,403.3 113.2,401.9 113.6,400.4 114.0,399.0 114.4,397.5 114.9,396.1 115.4,394.7 115.8,393.2 116.3,391.8 116.8,390.4 117.3,389.0 117.8,387.5 118.3,386.1 118.8,384.7 119.4,383.3 119.9,381.9 120.5,380.4 121.0,379.0 121.6,377.6 122.2,376.2 122.7,374.8 123.3,373.4 123.9,372.0 124.5,370.6 125.1,369.2 125.7,367.8 126.3,366.4 126.9,365.0 127.5,363.7 128.2,362.3 128.8,360.9 129.4,359.5 130.0,358.1 130.7,356.7 131.3,355.3 131.9,353.9 132.5,352.6 133.1,351.2 133.8,349.8 134.4,348.4 135.0,347.0 135.6,345.6 136.2,344.2 136.9,342.9 137.5,341.5 138.1,340.1 138.7,338.7 139.4,337.3 140.0,336.0 140.6,334.6 141.2,333.2 141.9,331.8 142.5,330.5 143.2,329.1 143.9,327.7 144.6,326.4 145.4,325.1 146.1,323.7 146.9,322.4 147.7,321.1 148.5,319.7 149.3,318.4 150.1,317.1 150.9,315.8 151.8,314.5 152.6,313.2 153.5,311.9 154.4,310.6 155.3,309.3 156.2,308.0 157.1,306.8 158.1,305.5 159.0,304.2 159.9,303.0 160.9,301.7 161.8,300.5 162.7,299.2 163.7,297.9 164.6,296.6 165.5,295.4 166.4,294.1 167.3,292.8 168.2,291.5 169.0,290.3 169.9,289.0 170.7,287.7 171.5,286.4 172.3,285.1 173.2,283.8 174.0,282.5 174.8,281.2 175.6,279.9 176.5,278.6 177.3,277.3 178.1,276.0 179.0,274.8 179.9,273.5 180.7,272.2 181.6,271.0 182.5,269.7 183.4,268.4 184.2,267.2 185.1,265.9 186.0,264.6 186.8,263.3 187.6,262.1 188.5,260.8 189.3,259.5 190.2,258.2 191.0,257.0 191.9,255.7 192.8,254.4 193.6,253.2 194.5,251.9 195.5,250.7 196.4,249.4 197.3,248.2 198.3,247.0 199.3,245.8 200.3,244.6 201.3,243.4 202.3,242.2 203.2,241.0 204.2,239.7 205.1,238.5 206.1,237.3 207.0,236.1 207.9,234.8 208.8,233.6 209.7,232.4 210.6,231.1 211.5,229.9 212.4,228.6 213.3,227.4 214.2,226.2 215.1,224.9 216.0,223.7 216.9,222.5 217.9,221.3 218.9,220.1 219.9,218.9 220.8,217.7 221.9,216.5 222.9,215.4 224.0,214.2 225.0,213.1 226.1,211.9 227.2,210.8 228.4,209.7 229.6,208.6 230.8,207.5 232.0,206.5 233.3,205.4 234.6,204.4 235.9,203.4 237.1,202.3 238.3,201.3 239.5,200.2 240.6,199.1 241.7,197.9 242.7,196.8 243.8,195.6 244.8,194.5 245.9,193.3 247.0,192.2 248.1,191.1 249.3,190.1 250.5,189.0 251.6,187.9 252.7,186.8 253.9,185.7 254.9,184.6 256.0,183.5 257.1,182.4 258.2,181.3 259.4,180.2 260.5,179.1 261.7,178.1 262.9,177.0 264.1,176.0 265.4,175.0 266.6,174.0 267.9,172.9 269.1,171.9 270.4,170.9 271.7,170.0 272.9,168.9 274.2,168.0 275.5,166.9 276.7,165.9 278.0,164.9 279.3,164.0 280.6,163.0 282.0,162.1 283.4,161.2 284.7,160.2 286.0,159.3 287.4,158.4 288.8,157.5 290.3,156.6 291.9,155.8 293.3,155.0 294.9,154.2 296.3,153.3 297.9,152.5 299.4,151.7 300.8,150.8 302.3,150.0 303.7,149.1 305.1,148.2 306.4,147.3 307.6,146.3 308.9,145.3 310.1,144.3 311.4,143.3 312.6,142.3 313.9,141.4 315.2,140.4 316.5,139.5 317.9,138.6 319.4,137.8 320.8,137.0 322.2,136.1 323.6,135.2 325.0,134.4 326.4,133.5 327.7,132.6 329.2,131.8 330.6,131.0 332.0,130.1 333.5,129.3 334.9,128.4 336.3,127.6 337.8,126.8 339.2,126.0 340.6,125.1 342.0,124.3 343.5,123.5 345.0,122.7 346.4,121.9 347.9,121.2 349.4,120.4 350.9,119.7 352.5,119.0 354.1,118.3 355.7,117.6 357.3,116.9 358.9,116.3 360.6,115.6 362.2,114.9 363.8,114.3 365.4,113.6 367.0,113.0 368.6,112.3 370.2,111.6 371.8,110.9 373.3,110.2 374.8,109.5 376.3,108.8 377.8,108.0 379.3,107.3 380.8,106.5 382.3,105.8 383.7,105.0 385.2,104.3 386.8,103.6 388.3,102.9 389.9,102.3 391.4,101.6 393.0,101.0 394.6,100.3 396.1,99.6 397.6,98.9 399.0,98.2 400.6,97.5 402.0,96.7 403.5,96.0 404.9,95.3 406.3,94.5 407.8,93.7 409.2,93.0 410.6,92.2 412.1,91.5 413.6,90.8 415.2,90.2 416.8,89.6 418.5,89.1 420.1,88.5 421.7,88.0 423.4,87.4 425.0,86.8 426.6,86.3 428.3,85.8 429.9,85.2 431.6,84.7 433.3,84.2 434.9,83.7 436.6,83.2 438.3,82.7 439.9,82.1 441.6,81.6 443.2,81.1 444.8,80.6 446.5,80.1 448.1,79.5 449.7,79.0 451.4,78.5 453.1,78.0 454.7,77.5 456.4,77.1 458.2,76.7 459.9,76.2 461.6,75.8 463.4,75.5 465.1,75.0 466.7,74.6 468.4,74.1 470.0,73.6 471.7,73.1 473.4,72.7 475.0,72.2 476.8,71.8 478.5,71.5 480.2,71.1 482.0,70.8 483.8,70.5 485.6,70.1 487.4,69.8 489.2,69.5 490.9,69.2 492.7,68.8 494.4,68.5 496.1,68.1 497.8,67.7 499.5,67.3 501.2,66.9 502.9,66.5 504.6,66.1 506.3,65.8 508.0,65.4 509.7,65.1 511.4,64.7 513.2,64.4 514.9,64.1 516.6,63.8 518.4,63.5 520.2,63.2 521.9,63.0 523.7,62.7 525.4,62.4 527.2,62.2 529.0,61.9 530.8,61.7 532.6,61.5 534.4,61.2 536.2,61.0 538.0,60.8 539.7,60.5 541.5,60.3 543.2,60.0 544.9,59.7 546.6,59.4 548.3,59.1 550.0,58.7 551.6,58.3 553.2,58.0 554.8,57.5 556.4,57.1 558.0,56.7 559.6,56.3 561.2,55.9 562.8,55.5 564.4,55.1 566.0,54.7 567.7,54.4 569.3,54.1 571.0,53.8 572.7,53.5 574.4,53.2 576.0,52.9 577.7,52.7 579.4,52.4 581.1,52.1 582.8,51.9 584.5,51.7 586.1,51.4 587.9,51.2 589.6,50.9 591.2,50.7 592.9,50.5 594.6,50.3 596.3,50.0 598.0,49.8 599.8,49.6 601.4,49.4 603.1,49.2 604.8,49.0 606.5,48.8 608.2,48.6 609.9,48.3 611.6,48.2 613.3,48.0 614.9,47.7 616.6,47.5 618.3,47.3 619.9,47.0 621.6,46.8 623.3,46.6 624.9,46.4 626.6,46.2 628.2,46.0 629.9,45.8 631.6,45.6 633.3,45.5 634.9,45.2 636.6,45.1 638.4,45.0 640.0,44.8 641.7,44.8 643.5,44.6 645.2,44.5 646.9,44.4 648.6,44.3 650.2,44.1 651.9,44.0 653.5,43.8 655.1,43.6 656.8,43.4 658.4,43.2 660.0,43.0 661.7,42.8 663.3,42.6 665.0,42.4 666.6,42.3 668.2,42.1 669.9,41.9 671.5,41.8 673.1,41.6 674.8,41.4 676.5,41.3 678.1,41.1 679.7,41.0 681.4,40.8 683.0,40.6 684.6,40.5 686.2,40.4 687.8,40.1 689.5,40.0 691.1,39.9 692.7,39.7 694.3,39.6 696.0,39.4 697.6,39.3 699.2,39.1 700.8,39.1 702.5,38.9 704.1,38.8 705.7,38.7 707.3,38.6 709.0,38.5 710.6,38.4 712.3,38.3 713.9,38.2 715.6,38.2 717.2,38.1 718.8,38.0 720.4,38.0 722.0,37.8 723.6,37.7 725.3,37.6 726.8,37.4 728.5,37.3 730.1,37.2 731.7,37.1 733.3,37.0 734.9,36.9 736.5,36.8 738.1,36.7 739.6,36.5 741.2,36.4 742.8,36.3 744.4,36.2 746.0,36.0 747.6,35.9 749.1,35.8 750.7,35.6 752.3,35.6 753.9,35.4 755.5,35.3 757.0,35.2 758.6,35.1 760.2,35.1 761.8,34.9 763.4,34.9 765.0,34.8 766.5,34.7 768.1,34.6 769.7,34.5 771.3,34.5 772.9,34.4 774.5,34.4 776.1,34.3 777.6,34.3 779.2,34.2 780.8,34.2 782.4,34.1 784.0,34.1 785.6,34.0 787.1,34.0 788.7,34.0 790.3,33.9 791.9,33.9 793.4,33.9 795.0,33.8 796.6,33.8 798.2,33.7 799.7,33.7 801.3,33.7 802.9,33.6 804.4,33.6 806.0,33.6 807.6,33.5 809.1,33.5 810.7,33.5 812.3,33.4 813.8,33.4 815.4,33.4 817.0,33.4 818.5,33.4 820.1,33.3 821.6,33.3 823.2,33.3 824.7,33.2 826.3,33.2 827.8,33.2 829.4,33.2 830.9,33.1 832.5,33.1 834.0,33.1 835.6,33.1 837.1,33.0 838.7,33.0 840.2,33.0 841.8,33.0 843.3,32.9 844.9,32.9 846.4,32.9 847.9,32.8 849.5,32.8 851.0,32.8 852.6,32.8 854.1,32.7 855.6,32.7 857.2,32.7 858.7,32.7 860.2,32.6 861.8,32.6 863.3,32.6 864.8,32.5 866.3,32.5 867.9,32.5 869.4,32.4 870.9,32.4 872.4,32.4 874.0,32.3 875.5,32.3 877.0,32.3 878.5,32.2 880.1,32.2 881.6,32.2 883.1,32.1 884.6,32.1 886.1,32.1 887.7,32.1 889.2,32.0 890.7,32.0 892.2,31.9 893.7,31.9 895.2,31.9 896.8,31.9 898.3,31.8 899.8,31.8 901.3,31.8 902.8,31.8 904.3,31.8 905.8,31.8 907.4,31.8 908.9,31.7 910.4,31.7 911.9,31.7 913.4,31.7 914.9,31.7 916.4,31.7 917.9,31.7 919.4,31.7 921.0,31.7 922.5,31.7 924.0,31.7 925.5,31.7 927.0,31.7 928.5,31.7 930.0,31.7 931.5,31.7 933.0,31.7 934.5,31.7 936.0,31.7 937.5,31.7 939.0,31.7 940.5,31.6 942.0,31.6 943.6,31.6 945.1,31.6 946.6,31.6 948.1,31.6 949.6,31.6 951.1,31.6 952.6,31.6 954.1,31.6 955.6,31.6 957.1,31.6 958.6,31.6 960.1,31.6 961.6,31.6 963.1,31.6 964.6,31.6 966.1,31.6 967.6,31.6 969.1,31.5 970.6,31.5 972.1,31.5 973.6,31.5 975.1,31.5 976.6,31.5 978.1,31.5 979.6,31.5 981.1,31.5 982.6,31.5 984.1,31.5 985.6,31.5 987.1,31.5 988.6,31.5 990.0,31.5" stroke="#008000"/>
<polyline points="80.6,584.0 80.8,582.5 81.1,581.0 81.4,579.5 81.7,578.0 82.1,576.5 82.6,575.0 83.0,573.5 83.4,572.0 83.8,570.5 84.2,569.0 84.6,567.5 85.0,566.0 85.3,564.6 85.7,563.1 86.1,561.6 86.5,560.1 86.9,558.6 87.3,557.1 87.8,555.6 88.3,554.1 88.9,552.7 89.4,551.2 90.0,549.7 90.6,548.2 91.3,546.7 92.0,545.3 92.7,543.8 93.4,542.3 94.1,540.9 94.8,539.4 95.5,537.9 96.3,536.5 97.0,535.0 97.7,533.5 98.5,532.1 99.2,530.6 99.8,529.2 100.6,527.7 101.2,526.3 101.9,524.8 102.6,523.3 103.3,521.9 103.9,520.4 104.6,519.0 105.2,517.5 105.9,516.1 106.6,514.6 107.2,513.2 107.9,511.7 108.6,510.3 109.3,508.8 110.0,507.4 110.8,505.9 111.5,504.5 112.3,503.1 113.0,501.6 113.8,500.2 114.7,498.8 115.5,497.3 116.5,495.9 117.4,494.5 118.3,493.1 119.2,491.7 120.1,490.3 121.0,488.9 121.9,487.4 122.8,486.0 123.6,484.6 124.5,483.2 125.3,481.8 126.1,480.4 127.0,479.0 127.8,477.6 128.6,476.2 129.4,474.8 130.3,473.4 131.2,472.0 132.2,470.6 133.2,469.2 134.2,467.8 135.3,466.5 136.3,465.1 137.4,463.7 138.5,462.4 139.6,461.0 140.7,459.7 141.8,458.3 142.8,456.9 143.8,455.6 144.6,454.2 145.5,452.8 146.2,451.4 146.9,450.0 147.4,448.6 148.1,447.1 148.7,445.7 149.4,444.3 150.0,442.9 150.8,441.5 151.6,440.1 152.3,438.7 153.1,437.3 154.0,436.0 154.8,434.6 155.7,433.2 156.6,431.9 157.5,430.5 158.4,429.2 159.3,427.8 160.2,426.5 161.1,425.1 162.0,423.8 163.0,422.4 163.9,421.1 164.9,419.7 165.9,418.4 166.9,417.1 167.9,415.8 168.9,414.4 170.0,413.1 171.0,411.8 172.0,410.5 172.9,409.1 173.8,407.8 174.7,406.5 175.5,405.1 176.4,403.8 177.2,402.4 177.9,401.0 178.8,399.7 179.6,398.3 180.5,397.0 181.4,395.7 182.3,394.3 183.2,393.0 184.1,391.7 185.0,390.4 185.9,389.0 186.9,387.7 187.9,386.4 188.8,385.1 189.9,383.8 190.9,382.6 192.0,381.3 193.1,380.0 194.1,378.7 195.3,377.5 196.3,376.2 197.4,374.9 198.5,373.7 199.6,372.4 200.7,371.2 201.8,369.9 202.9,368.7 204.0,367.4 205.1,366.2 206.2,364.9 207.4,363.7 208.5,362.5 209.8,361.3 211.2,360.1 212.6,359.0 214.2,357.8 215.8,356.8 217.5,355.7 219.2,354.6 220.7,353.5 222.4,352.5 224.0,351.4 225.6,350.3 227.0,349.2 228.5,348.1 230.0,347.0 231.3,345.8 232.8,344.7 234.3,343.6 235.6,342.5 237.0,341.3 238.4,340.2 239.7,339.1 241.1,337.9 242.4,336.8 243.7,335.6 245.1,334.5 246.4,333.4 247.7,332.2 249.0,331.1 250.3,330.0 251.5,328.8 252.8,327.7 254.1,326.5 255.3,325.4 256.6,324.2 257.9,323.1 259.1,322.0 260.4,320.8 261.7,319.7 262.9,318.5 264.1,317.4 265.3,316.2 266.5,315.1 267.6,313.9 268.6,312.7 269.7,311.5 270.6,310.2 271.6,309.0 272.6,307.8 273.6,306.5 274.7,305.4 275.9,304.2 277.0,303.1 278.3,301.9 279.5,300.8 280.8,299.7 282.0,298.6 283.3,297.5 284.5,296.4 285.8,295.3 287.0,294.2 288.2,293.0 289.4,291.9 290.7,290.8 291.9,289.7 293.1,288.6 294.3,287.5 295.6,286.4 296.8,285.3 298.1,284.2 299.3,283.1 300.5,282.0 301.8,280.9 303.1,279.9 304.4,278.8 305.7,277.7 307.0,276.7 308.3,275.6 309.6,274.6 310.9,273.5 312.2,272.5 313.5,271.4 314.8,270.4 316.0,269.3 317.3,268.2 318.5,267.1 319.8,266.1 321.1,265.1 322.4,264.0 323.8,263.0 325.2,262.0 326.6,261.1 328.1,260.1 329.5,259.1 330.9,258.2 332.4,257.2 333.9,256.3 335.3,255.3 336.7,254.3 338.1,253.4 339.4,252.4 340.8,251.4 342.1,250.4 343.4,249.4 344.7,248.4 346.0,247.4 347.2,246.3 348.6,245.3 349.9,244.3 351.2,243.3 352.5,242.3 353.9,241.4 355.2,240.3 356.5,239.4 357.9,238.4 359.2,237.4 360.4,236.4 361.7,235.4 363.0,234.4 364.2,233.4 365.5,232.4 366.8,231.4 368.0,230.4 369.3,229.4 370.6,228.3 371.8,227.3 373.0,226.3 374.3,225.3 375.5,224.3 376.7,223.2 377.9,222.2 379.1,221.2 380.3,220.2 381.6,219.2 382.8,218.1 384.1,217.2 385.3,216.2 386.6,215.2 387.8,214.2 389.1,213.3 390.5,212.3 391.8,211.4 393.1,210.4 394.5,209.5 395.9,208.7 397.4,207.9 398.9,207.0 400.5,206.2 401.9,205.4 403.5,204.6 405.1,203.9 406.5,203.0 408.1,202.3 409.6,201.4 411.0,200.6 412.5,199.8 413.9,198.9 415.3,198.1 416.6,197.2 418.1,196.3 419.5,195.5 420.8,194.6 422.2,193.7 423.5,192.8 424.9,191.9 426.3,191.1 427.7,190.2 429.1,189.3 430.4,188.5 431.8,187.6 433.2,186.8 434.5,185.9 436.0,185.1 437.4,184.2 438.8,183.4 440.2,182.6 441.7,181.8 443.1,181.0 444.6,180.3 446.1,179.6 447.7,178.8 449.2,178.1 450.8,177.4 452.3,176.7 454.0,176.1 455.6,175.5 457.3,174.9 459.0,174.3 460.7,173.7 462.5,173.2 464.2,172.6 465.9,172.1 467.6,171.5 469.2,170.9 470.9,170.3 472.5,169.7 474.2,169.1 475.8,168.5 477.4,167.8 479.0,167.2 480.5,166.5 482.1,165.9 483.7,165.2 485.2,164.6 486.7,163.9 488.2,163.2 489.7,162.5 491.2,161.8 492.7,161.1 494.2,160.4 495.7,159.7 497.2,159.0 498.7,158.3 500.1,157.6 501.6,156.9 503.1,156.2 504.5,155.5 505.9,154.7 507.4,154.0 508.8,153.3 510.2,152.5 511.6,151.8 512.9,151.0 514.3,150.2 515.6,149.3 516.9,148.5 518.2,147.7 519.5,146.8 520.8,146.0 522.2,145.2 523.6,144.5 524.9,143.7 526.3,143.0 527.7,142.2 529.1,141.5 530.5,140.7 531.9,140.0 533.3,139.3 534.7,138.6 536.1,137.9 537.6,137.2 539.0,136.5 540.5,135.9 542.0,135.2 543.4,134.6 545.0,134.0 546.5,133.4 548.0,132.8 549.5,132.2 551.0,131.6 552.5,131.0 554.1,130.5 555.6,129.9 557.1,129.3 558.6,128.7 560.1,128.1 561.5,127.5 563.0,126.9 564.5,126.3 566.0,125.7 567.5,125.1 568.9,124.5 570.4,123.8 571.8,123.2 573.2,122.5 574.6,121.8 576.0,121.1 577.4,120.4 578.7,119.6 580.1,118.9 581.4,118.2 582.8,117.5 584.1,116.7 585.5,116.1 586.9,115.4 588.3,114.7 589.7,114.0 591.1,113.3 592.5,112.7 593.9,112.0 595.3,111.4 596.7,110.7 598.1,110.1 599.5,109.4 600.9,108.8 602.4,108.2 603.8,107.6 605.3,107.0 606.7,106.4 608.1,105.8 609.6,105.2 611.0,104.6 612.4,104.0 613.9,103.4 615.3,102.8 616.7,102.2 618.2,101.6 619.6,101.0 621.1,100.5 622.6,100.0 624.1,99.5 625.6,99.0 627.1,98.5 628.6,98.1 630.2,97.6 631.7,97.1 633.2,96.7 634.7,96.2 636.2,95.8 637.8,95.3 639.2,94.8 640.8,94.4 642.3,93.9 643.8,93.5 645.3,93.0 646.8,92.6 648.3,92.1 649.8,91.6 651.3,91.1 652.8,90.6 654.2,90.1 655.7,89.6 657.1,89.0 658.5,88.4 659.9,87.9 661.4,87.3 662.8,86.8 664.2,86.2 665.6,85.6 667.1,85.1 668.5,84.5 669.9,84.0 671.3,83.4 672.8,82.9 674.2,82.4 675.7,81.9 677.2,81.4 678.6,80.9 680.1,80.5 681.5,80.0 683.0,79.6 684.5,79.1 686.0,78.6 687.5,78.2 688.9,77.7 690.4,77.3 691.9,76.9 693.4,76.4 694.8,76.0 696.3,75.5 697.8,75.1 699.3,74.7 700.7,74.2 702.2,73.8 703.7,73.3 705.1,72.9 706.6,72.4 708.1,72.0 709.5,71.5 711.0,71.1 712.5,70.7 714.0,70.3 715.5,70.0 717.0,69.6 718.5,69.3 720.1,69.1 721.6,68.8 723.2,68.5 724.7,68.3 726.3,68.0 727.9,67.8 729.4,67.6 731.0,67.3 732.5,67.1 734.0,66.8 735.5,66.4 737.0,66.1 738.5,65.8 740.0,65.4 741.5,65.0 743.0,64.7 744.5,64.4 746.0,64.1 747.5,63.8 749.1,63.5 750.6,63.2 752.1,62.9 753.6,62.6 755.1,62.4 756.7,62.1 758.2,61.9 759.7,61.6 761.3,61.4 762.8,61.2 764.3,61.0 765.9,60.8 767.4,60.5 768.9,60.3 770.5,60.1 772.0,59.8 773.5,59.6 775.0,59.3 776.5,59.1 778.0,58.8 779.5,58.5 781.0,58.3 782.5,57.9 784.0,57.6 785.5,57.3 786.9,56.9 788.4,56.5 789.8,56.0 791.2,55.5 792.6,55.0 794.0,54.5 795.5,54.0 796.9,53.5 798.3,53.1 799.8,52.7 801.3,52.4 802.8,52.2 804.3,52.0 805.8,51.7 807.3,51.5 808.8,51.2 810.2,50.9 811.7,50.5 813.2,50.1 814.6,49.7 816.1,49.3 817.5,48.9 818.9,48.5 820.4,48.1 821.8,47.7 823.3,47.4 824.8,47.0 826.2,46.6 827.7,46.3 829.1,45.9 830.6,45.6 832.1,45.3 833.5,44.9 835.0,44.6 836.5,44.3 837.9,44.0 839.4,43.7 840.9,43.4 842.4,43.1 843.8,42.8 845.3,42.5 846.8,42.3 848.3,42.0 849.7,41.7 851.2,41.4 852.7,41.2 854.2,40.9 855.7,40.6 857.1,40.4 858.6,40.1 860.1,39.9 861.6,39.7 863.1,39.5 864.6,39.3 866.1,39.1 867.6,39.0 869.1,38.8 870.6,38.7 872.1,38.6 873.6,38.4 875.1,38.3 876.6,38.2 878.1,38.1 879.6,38.0 881.1,37.8 882.6,37.7 884.1,37.5 885.6,37.4 887.1,37.3 888.6,37.1 890.1,37.0 891.6,36.8 893.1,36.7 894.6,36.5 896.1,36.4 897.6,36.3 899.1,36.2 900.6,36.0 902.1,35.9 903.6,35.8 905.1,35.7 906.6,35.7 908.1,35.6 909.6,35.5 911.1,35.4 912.6,35.4 914.1,35.3 915.6,35.2 917.1,35.1 918.6,35.1 920.1,35.0 921.6,34.9 923.1,34.8 924.6,34.7 926.1,34.7 927.6,34.6 929.1,34.5 930.6,34.5 932.1,34.4 933.6,34.3 935.1,34.3 936.6,34.2 938.1,34.1 939.6,34.1 941.1,34.0 942.6,33.9 944.1,33.9 945.6,33.8 947.1,33.7 948.6,33.7 950.1,33.6 951.6,33.5 953.1,33.5 954.6,33.4 956.1,33.4 957.6,33.3 959.1,33.2 960.6,33.2 962.1,33.1 963.6,33.0 965.1,33.0 966.6,32.9 968.1,32.9 969.6,32.8 971.1,32.7 972.6,32.7 974.1,32.6 975.6,32.6 977.1,32.5 978.6,32.4 980.1,32.4 981.6,32.3 983.1,32.3 984.6,32.2 986.1,32.2 987.6,32.2 989.1,32.1 990.0,32.1" stroke="#a52a2a"/>
<polyline points="81.0,584.0 81.2,582.5 81.6,581.0 82.1,579.5 82.6,578.0 83.1,576.5 83.7,575.0 84.3,573.5 85.0,572.0 85.7,570.5 86.4,569.1 87.0,567.6 87.7,566.1 88.3,564.6 89.0,563.1 89.6,561.6 90.3,560.1 91.0,558.7 91.7,557.2 92.3,555.7 93.0,554.2 93.7,552.7 94.3,551.3 94.9,549.8 95.6,548.3 96.1,546.8 96.7,545.4 97.3,543.9 97.8,542.4 98.4,540.9 98.9,539.4 99.5,538.0 100.0,536.5 100.6,535.0 101.2,533.6 101.8,532.1 102.4,530.6 103.0,529.2 103.7,527.7 104.3,526.2 105.0,524.8 105.7,523.3 106.4,521.9 107.1,520.4 107.8,519.0 108.5,517.5 109.2,516.1 109.9,514.6 110.6,513.2 111.3,511.7 112.0,510.3 112.8,508.8 113.6,507.4 114.4,506.0 115.2,504.5 116.1,503.1 117.1,501.7 118.1,500.3 119.2,498.9 120.2,497.5 121.4,496.1 122.5,494.7 123.7,493.3 125.0,492.0 126.2,490.6 127.5,489.2 128.9,487.9 130.1,486.5 131.3,485.1 132.4,483.7 133.4,482.3 134.3,480.9 135.0,479.5 135.6,478.1 136.1,476.6 136.6,475.2 137.0,473.7 137.3,472.2 137.5,470.7 137.7,469.3 137.9,467.8 138.1,466.3 138.3,464.8 138.4,463.3 138.6,461.8 138.7,460.3 138.9,458.8 139.1,457.3 139.2,455.8 139.4,454.3 139.6,452.9 139.9,451.4 140.1,449.9 140.5,448.4 140.8,447.0 141.3,445.5 141.7,444.1 142.3,442.7 142.8,441.2 143.4,439.8 143.9,438.4 144.5,437.0 145.1,435.5 145.6,434.1 146.1,432.7 146.6,431.2 147.1,429.8 147.6,428.4 148.1,426.9 148.6,425.5 149.1,424.1 149.6,422.6 150.1,421.2 150.7,419.8 151.2,418.4 151.9,417.0 152.5,415.6 153.2,414.2 153.9,412.8 154.6,411.4 155.3,410.0 156.0,408.6 156.8,407.3 157.4,405.9 158.2,404.5 158.8,403.1 159.5,401.7 160.1,400.3 160.7,398.9 161.4,397.5 162.0,396.1 162.7,394.8 163.5,393.4 164.2,392.0 165.0,390.7 165.9,389.3 166.8,388.0 167.7,386.7 168.5,385.3 169.4,384.0 170.2,382.7 171.0,381.3 171.8,380.0 172.6,378.6 173.3,377.3 174.1,375.9 174.8,374.5 175.6,373.2 176.4,371.9 177.4,370.6 178.3,369.3 179.3,368.0 180.5,366.7 181.5,365.5 182.5,364.2 183.6,362.9 184.5,361.6 185.4,360.3 186.3,359.0 187.1,357.7 187.8,356.3 188.5,354.9 189.2,353.6 190.0,352.3 190.8,350.9 191.7,349.6 192.6,348.4 193.5,347.1 194.4,345.8 195.3,344.5 196.1,343.1 196.9,341.8 197.7,340.5 198.6,339.2 199.6,337.9 200.6,336.7 201.7,335.5 202.8,334.2 203.9,333.0 205.0,331.8 206.0,330.5 207.1,329.3 208.0,328.0 208.9,326.8 209.9,325.5 210.8,324.2 211.7,323.0 212.7,321.7 213.6,320.4 214.7,319.2 215.7,318.0 216.7,316.7 217.7,315.5 218.8,314.3 219.9,313.1 220.9,311.9 221.9,310.6 223.0,309.4 223.9,308.1 224.8,306.9 225.6,305.6 226.4,304.3 227.2,303.0 227.9,301.6 228.7,300.3 229.4,299.0 230.2,297.7 230.9,296.3 231.5,295.0 232.2,293.6 232.8,292.3 233.5,290.9 234.3,289.6 235.0,288.3 235.8,287.0 236.7,285.7 237.6,284.5 238.5,283.2 239.4,282.0 240.4,280.7 241.3,279.5 242.2,278.2 243.2,277.0 244.1,275.8 245.1,274.6 246.0,273.3 247.1,272.1 248.1,271.0 249.2,269.8 250.3,268.6 251.5,267.5 252.6,266.3 253.8,265.2 255.0,264.1 256.2,263.0 257.5,262.0 258.7,260.9 260.0,259.8 261.2,258.7 262.5,257.6 263.8,256.6 265.0,255.5 266.4,254.4 267.6,253.4 268.9,252.3 270.2,251.3 271.5,250.2 272.8,249.2 274.1,248.1 275.4,247.1 276.8,246.1 278.2,245.1 279.6,244.1 281.2,243.2 282.6,242.2 284.2,241.3 285.7,240.4 287.2,239.5 288.7,238.5 290.3,237.6 291.7,236.7 293.3,235.8 294.8,234.9 296.1,233.8 297.5,232.9 298.8,231.8 300.0,230.8 301.2,229.7 302.5,228.7 303.7,227.6 304.9,226.6 306.2,225.6 307.4,224.5 308.6,223.5 309.8,222.4 310.9,221.3 312.1,220.2 313.3,219.1 314.5,218.1 315.7,217.1 317.0,216.1 318.4,215.1 319.9,214.2 321.3,213.3 322.9,212.5 324.5,211.6 326.0,210.8 327.5,209.9 329.2,209.1 330.7,208.3 332.4,207.5 334.0,206.7 335.6,205.9 337.2,205.1 338.8,204.3 340.3,203.4 341.9,202.6 343.4,201.8 344.8,200.9 346.3,200.0 347.7,199.1 349.0,198.2 350.3,197.2 351.5,196.2 352.7,195.1 353.7,194.0 354.8,192.9 355.8,191.8 356.9,190.7 357.9,189.6 359.0,188.5 360.1,187.4 361.3,186.4 362.4,185.3 363.6,184.3 364.9,183.3 366.0,182.3 367.4,181.4 368.7,180.4 370.0,179.5 371.4,178.7 372.8,177.8 374.2,176.9 375.5,175.9 376.8,175.0 378.1,174.1 379.3,173.1 380.6,172.1 381.8,171.2 383.2,170.3 384.5,169.4 385.9,168.5 387.3,167.7 388.8,166.9 390.2,166.0 391.6,165.2 393.0,164.3 394.4,163.5 395.8,162.6 397.2,161.8 398.6,161.0 399.9,160.1 401.3,159.2 402.7,158.4 404.0,157.5 405.3,156.6 406.6,155.7 407.9,154.7 409.1,153.8 410.4,152.9 411.7,152.0 413.0,151.1 414.3,150.2 415.6,149.3 417.0,148.5 418.4,147.7 419.8,146.9 421.2,146.1 422.7,145.3 424.2,144.6 425.7,143.8 427.2,143.2 428.7,142.4 430.3,141.8 431.9,141.1 433.5,140.5 435.1,139.8 436.7,139.2 438.3,138.6 440.0,138.0 441.5,137.3 443.1,136.7 444.7,136.0 446.1,135.3 447.7,134.6 449.2,134.0 450.8,133.3 452.3,132.7 453.9,132.0 455.5,131.4 457.1,130.8 458.6,130.2 460.4,129.7 462.0,129.1 463.6,128.6 465.3,128.0 466.9,127.4 468.4,126.7 469.8,126.0 471.2,125.2 472.6,124.5 474.0,123.7 475.4,123.0 476.9,122.3 478.5,121.7 480.0,121.0 481.5,120.4 483.0,119.7 484.6,119.1 486.0,118.4 487.5,117.8 489.0,117.1 490.6,116.5 492.1,116.0 493.8,115.4 495.4,114.9 497.0,114.3 498.5,113.8 500.1,113.2 501.7,112.6 503.2,112.1 504.8,111.5 506.5,111.1 508.1,110.5 509.8,110.1 511.4,109.6 512.9,109.0 514.5,108.5 516.0,107.8 517.5,107.2 519.1,106.7 520.6,106.2 522.3,105.7 524.0,105.3 525.6,104.8 527.3,104.4 528.9,103.9 530.5,103.4 532.1,102.9 533.6,102.4 535.2,101.9 536.9,101.4 538.5,101.0 540.2,100.6 541.8,100.2 543.5,99.8 545.1,99.3 546.7,98.8 548.2,98.3 549.7,97.7 551.3,97.2 552.8,96.7 554.3,96.2 555.9,95.6 557.4,95.1 558.9,94.5 560.4,94.0 561.8,93.3 563.3,92.7 564.7,92.1 566.2,91.5 567.7,90.9 569.2,90.4 570.8,89.9 572.3,89.5 573.9,89.0 575.4,88.5 577.0,88.0 578.4,87.4 579.9,86.8 581.3,86.2 582.7,85.6 584.2,85.0 585.7,84.5 587.2,84.0 588.8,83.5 590.3,83.1 591.9,82.6 593.5,82.2 595.0,81.8 596.6,81.4 598.1,80.9 599.7,80.5 601.3,80.1 602.8,79.6 604.4,79.3 606.0,78.8 607.5,78.4 609.1,78.0 610.6,77.6 612.2,77.2 613.7,76.7 615.3,76.3 616.8,75.9 618.3,75.4 619.9,74.9 621.4,74.5 622.9,74.1 624.5,73.6 626.0,73.2 627.5,72.8 629.1,72.4 630.6,72.0 632.2,71.6 633.7,71.1 635.2,70.7 636.8,70.3 638.3,69.9 639.8,69.5 641.3,69.0 642.8,68.6 644.4,68.2 645.9,67.8 647.4,67.4 648.9,66.9 650.5,66.6 652.0,66.2 653.5,65.8 655.1,65.4 656.6,65.0 658.2,64.7 659.7,64.3 661.3,64.0 662.8,63.6 664.4,63.3 665.9,63.0 667.5,62.6 669.0,62.3 670.6,62.0 672.1,61.6 673.7,61.3 675.2,61.0 676.8,60.7 678.4,60.4 679.9,60.1 681.5,59.8 683.0,59.5 684.6,59.2 686.1,58.8 687.7,58.5 689.2,58.2 690.8,57.9 692.3,57.6 693.9,57.3 695.4,57.0 696.9,56.7 698.5,56.4 700.0,56.1 701.6,55.8 703.1,55.4 704.6,55.1 706.2,54.9 707.7,54.6 709.3,54.3 710.8,54.0 712.4,53.7 713.9,53.5 715.5,53.2 717.0,52.9 718.5,52.6 720.0,52.3 721.5,51.9 723.0,51.5 724.5,51.2 726.0,50.8 727.5,50.4 729.0,50.1 730.5,49.8 732.0,49.5 733.6,49.3 735.1,49.1 736.7,48.9 738.3,48.7 739.9,48.6 741.4,48.4 743.0,48.2 744.6,48.0 746.1,47.9 747.7,47.7 749.3,47.5 750.8,47.4 752.4,47.2 753.9,47.0 755.5,46.8 757.0,46.6 758.5,46.3 760.1,46.1 761.6,45.8 763.1,45.5 764.6,45.3 766.1,45.0 767.6,44.7 769.1,44.4 770.6,44.2 772.1,43.9 773.7,43.8 775.2,43.6 776.8,43.4 778.3,43.2 779.9,43.1 781.4,42.9 783.0,42.8 784.5,42.7 786.1,42.6 787.6,42.4 789.2,42.3 790.7,42.2 792.3,42.0 793.8,41.9 795.3,41.7 796.9,41.6 798.4,41.4 799.9,41.3 801.4,41.1 803.0,40.9 804.5,40.7 806.0,40.5 807.5,40.3 809.0,40.1 810.5,39.9 812.0,39.6 813.5,39.4 815.0,39.2 816.5,38.9 818.0,38.7 819.5,38.4 821.0,38.2 822.5,37.9 824.0,37.7 825.5,37.5 827.0,37.2 828.5,37.0 830.0,36.8 831.5,36.6 833.0,36.5 834.5,36.3 836.0,36.2 837.6,36.1 839.1,36.0 840.6,36.0 842.1,35.9 843.7,35.8 845.2,35.7 846.7,35.6 848.3,35.6 849.8,35.5 851.3,35.4 852.8,35.3 854.4,35.3 855.9,35.2 857.4,35.1 858.9,35.0 860.5,35.0 862.0,34.9 863.5,34.8 865.0,34.7 866.5,34.7 868.1,34.6 869.6,34.5 871.1,34.5 872.6,34.4 874.1,34.3 875.6,34.3 877.2,34.2 878.7,34.1 880.2,34.1 881.7,34.0 883.2,33.9 884.7,33.9 886.2,33.8 887.8,33.7 889.3,33.7 890.8,33.6 892.3,33.5 893.8,33.5 895.3,33.4 896.8,33.3 898.3,33.3 899.8,33.2 901.3,33.2 902.8,33.1 904.4,33.1 905.9,33.0 907.4,33.0 908.9,33.0 910.4,32.9 911.9,32.9 913.4,32.8 914.9,32.8 916.4,32.8 917.9,32.7 919.4,32.7 920.9,32.6 922.5,32.6 924.0,32.6 925.5,32.5 927.0,32.5 928.5,32.5 930.0,32.4 931.5,32.4 933.0,32.4 934.5,32.3 936.0,32.3 937.5,32.2 939.0,32.2 940.5,32.2 942.0,32.2 943.5,32.1 945.0,32.1 946.5,32.1 948.0,32.1 949.5,32.0 951.0,32.0 952.5,32.0 954.0,32.0 955.5,32.0 957.0,31.9 958.5,31.9 960.0,31.9 961.5,31.9 963.0,31.9 964.5,31.8 966.0,31.8 967.5,31.8 969.0,31.8 970.5,31.8 972.0,31.7 973.5,31.7 975.0,31.7 976.5,31.7 978.0,31.6 979.5,31.6 981.0,31.6 982.5,31.6 984.0,31.6 985.5,31.6 987.0,31.6 988.5,31.5 990.0,31.6" stroke="#add8e6"/>
</g>
<g font-size="19.5"><text x="63.3" y="590.0" text-anchor="end">0.0</text><text x="78" y="612" text-anchor="middle">0.0</text><text x="63.3" y="479.7" text-anchor="end">0.2</text><text x="258.8" y="612" text-anchor="middle">0.2</text><text x="63.3" y="369.4" text-anchor="end">0.4</text><text x="439.4" y="612" text-anchor="middle">0.4</text><text x="63.3" y="259.1" text-anchor="end">0.6</text><text x="620.8" y="612" text-anchor="middle">0.6</text><text x="63.3" y="148.8" text-anchor="end">0.8</text><text x="803.5" y="612" text-anchor="middle">0.8</text><text x="63.3" y="38.5" text-anchor="end">1.0</text><text x="985" y="612" text-anchor="middle">1.0</text></g>
<text x="531.3" y="17.6" font-size="22.6" text-anchor="middle" textLength="111" lengthAdjust="spacingAndGlyphs">Roc curve</text>
<text x="532.4" y="640" font-size="22.5" text-anchor="middle">False positive rate</text>
<text transform="translate(20,310.4) rotate(-90)" x="0" y="0" font-size="22.8" text-anchor="middle">True positive rate</text>
<line x1="623.5" y1="382.3" x2="660.3" y2="382.3" stroke="#000" stroke-width="3.8" stroke-dasharray="15.4 6"/>
<text x="680.6" y="390.1" font-size="20.2" textLength="286.1" lengthAdjust="spacing">Random................(AUC = 0.50)</text>
<line x1="622.5" y1="410.8" x2="666.5" y2="410.8" stroke="#000098" stroke-width="3.8"/>
<text x="680.6" y="418.6" font-size="20.2" textLength="279.9" lengthAdjust="spacing">SVM-SulfoSite.....(AUC = 0.97)</text>
<line x1="622.5" y1="439.3" x2="666.5" y2="439.3" stroke="#f2f240" stroke-width="3.8"/>
<text x="680.6" y="447.1" font-size="20.2" textLength="281.0" lengthAdjust="spacing">BE........................(AUC = 0.82)</text>
<line x1="622.5" y1="467.8" x2="666.5" y2="467.8" stroke="#d00010" stroke-width="3.8"/>
<text x="680.6" y="475.6" font-size="20.2" textLength="278.4" lengthAdjust="spacing">AAindex...............(AUC = 0.76)</text>
<line x1="622.5" y1="496.3" x2="666.5" y2="496.3" stroke="#006a10" stroke-width="3.8"/>
<text x="680.6" y="504.1" font-size="20.2" textLength="275.8" lengthAdjust="spacing">KSAAP................(AUC = 0.84)</text>
<line x1="622.5" y1="524.8" x2="666.5" y2="524.8" stroke="#8a2a30" stroke-width="3.8"/>
<text x="680.6" y="532.6" font-size="20.2" textLength="272.9" lengthAdjust="spacing">AAC....................(AUC = 0.72)</text>
<line x1="622.5" y1="553.3" x2="666.5" y2="553.3" stroke="#b8d8e0" stroke-width="3.8"/>
<text x="680.6" y="561.1" font-size="20.2" textLength="269.8" lengthAdjust="spacing">HQI.....................(AUC = 0.77)</text>
</svg></body></html>
